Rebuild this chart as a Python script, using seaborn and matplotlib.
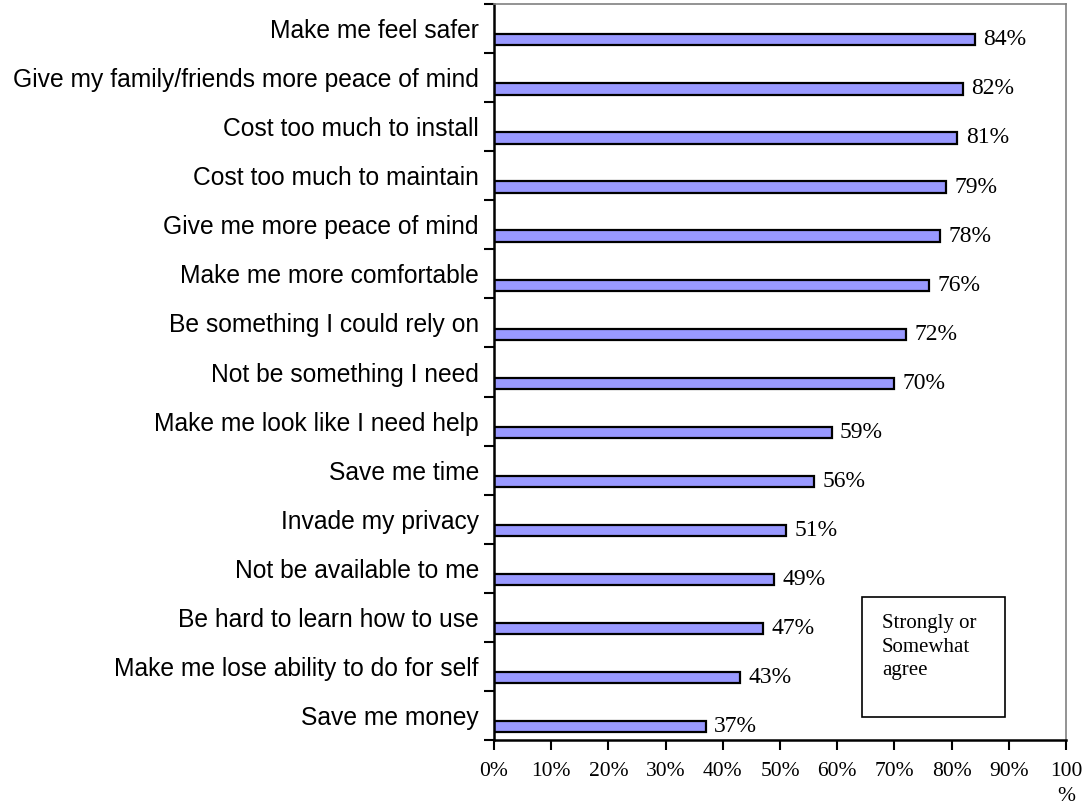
import matplotlib
matplotlib.use("Agg")
import matplotlib.pyplot as plt
import matplotlib.patches as mpatches
import numpy as np
import pandas as pd
import seaborn as sns

statements = [
    "Make me feel safer",
    "Give my family/friends more peace of mind",
    "Cost too much to install",
    "Cost too much to maintain",
    "Give me more peace of mind",
    "Make me more comfortable",
    "Be something I could rely on",
    "Not be something I need",
    "Make me look like I need help",
    "Save me time",
    "Invade my privacy",
    "Not be available to me",
    "Be hard to learn how to use",
    "Make me lose ability to do for self",
    "Save me money",
]
agree_pct = [84, 82, 81, 79, 78, 76, 72, 70, 59, 56, 51, 49, 47, 43, 37]
x_ticks = [0, 10, 20, 30, 40, 50, 60, 70, 80, 90, 100]
x_tick_labels = ["0%", "10%", "20%", "30%", "40%", "50%", "60%", "70%", "80%", "90%", "100\n%"]
legend_text = "Strongly or\nSomewhat\nagree"

df = pd.DataFrame({"statement": statements, "pct": agree_pct})

sns.set_theme(style="white")
plt.rcParams["font.family"] = ["Liberation Sans", "DejaVu Sans"]

fig = plt.figure(figsize=(10.87, 8.08), dpi=100)
ax = fig.add_axes([0.4545, 0.0842, 0.5262, 0.9108])

sns.barplot(data=df, x="pct", y="statement", orient="h", ax=ax,
            color="#9999FF", edgecolor="black", linewidth=1.6,
            width=0.23, saturation=1)

n = len(statements)
# bars sit in the lower part of each category band
shift = 0.23
ax.set_ylim(n - 0.5 - shift, -0.5 - shift)
ax.set_xlim(0, 100)

ax.set_yticks(np.arange(n) - shift)
ax.set_yticklabels(statements, fontsize=17.7, color="black")
ax.set_yticks(np.arange(n + 1) - 0.5 - shift, minor=True)
ax.tick_params(axis="y", which="major", length=0, pad=11)
ax.tick_params(axis="y", which="minor", length=7, width=1.5, color="black",
               left=True, direction="out")

ax.set_xticks(x_ticks)
ax.set_xticklabels(x_tick_labels, fontsize=15.5, family="Liberation Serif",
                   color="black", linespacing=1.45)
ax.tick_params(axis="x", which="major", length=7, width=1.5, color="black",
               bottom=True, direction="out", pad=9)
ax.set_xlabel("")
ax.set_ylabel("")

for side in ["left", "bottom"]:
    ax.spines[side].set_color("black")
    ax.spines[side].set_linewidth(1.8)
for side in ["top", "right"]:
    ax.spines[side].set_visible(True)
    ax.spines[side].set_color("#808080")
    ax.spines[side].set_linewidth(1.2)

for cont in ax.containers:
    ax.bar_label(cont, labels=[f"{v}%" for v in agree_pct], padding=6,
                 fontsize=17, family="Liberation Serif", color="black")

box = mpatches.Rectangle((0.643, 0.031), 0.25, 0.163, transform=ax.transAxes,
                         facecolor="white", edgecolor="black", linewidth=1.2,
                         zorder=5)
ax.add_patch(box)
ax.text(0.678, 0.171, legend_text, transform=ax.transAxes, ha="left", va="top",
        fontsize=15, family="Liberation Serif", color="black",
        linespacing=1.32, zorder=6)

fig.savefig("out.png", dpi=100)
